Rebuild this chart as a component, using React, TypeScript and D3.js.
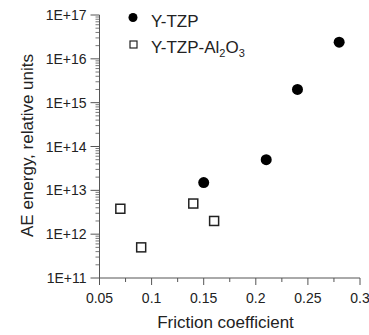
import React from "react";
import * as d3 from "d3";

const xTicks = [0.05, 0.1, 0.15, 0.2, 0.25, 0.3];
const xTickLabels = ["0.05", "0.1", "0.15", "0.2", "0.25", "0.3"];
const yTicks = [1e11, 1e12, 1e13, 1e14, 1e15, 1e16, 1e17];
const yTickLabels = ["1E+11", "1E+12", "1E+13", "1E+14", "1E+15", "1E+16", "1E+17"];

const tzpX = [0.15, 0.21, 0.24, 0.28];
const tzpY = [1.5e13, 5e13, 2e15, 2.4e16];
const alX = [0.07, 0.09, 0.14, 0.16];
const alY = [3.8e12, 5e11, 5e12, 2e12];

const W = 369, H = 335;
const FONT = "'Liberation Sans', Arial, sans-serif";

export default function App() {
  const x = d3.scaleLinear().domain([0.05, 0.3]).range([99.5, 360]);
  const y = d3.scaleLog().domain([1e11, 1e17]).range([278, 15]);
  const axisColor = "#555";
  const textColor = "#222";

  const minorY: number[] = [];
  for (let e = 11; e < 17; e++) {
    for (let m = 2; m <= 9; m++) minorY.push(m * Math.pow(10, e));
  }
  const minorX = d3.range(0.075, 0.3, 0.05);

  return (
    <svg width={W} height={H} style={{ position: "absolute", left: 0, top: 0, background: "#fff" }}>
      <rect width={W} height={H} fill="#fff" />
      {/* axes */}
      <line x1={x(0.05)} x2={x(0.3)} y1={y(1e11)} y2={y(1e11)} stroke={axisColor} strokeWidth={1} />
      <line x1={x(0.05)} x2={x(0.05)} y1={y(1e11)} y2={y(1e17)} stroke={axisColor} strokeWidth={1} />
      {xTicks.map((t, i) => (
        <g key={"xt" + i}>
          <line x1={x(t)} x2={x(t)} y1={y(1e11)} y2={y(1e11) + 7} stroke={axisColor} />
          <text x={x(t)} y={303} fontSize={14} fontFamily={FONT} fill={textColor} textAnchor="middle">
            {xTickLabels[i]}
          </text>
        </g>
      ))}
      {minorX.map((t, i) => (
        <line key={"xm" + i} x1={x(t)} x2={x(t)} y1={y(1e11)} y2={y(1e11) + 4} stroke={axisColor} />
      ))}
      {yTicks.map((t, i) => (
        <g key={"yt" + i}>
          <line x1={x(0.05) - 9} x2={x(0.05)} y1={y(t)} y2={y(t)} stroke={axisColor} />
          <text x={x(0.05) - 13} y={y(t) + 5} fontSize={14} fontFamily={FONT} fill={textColor} textAnchor="end">
            {yTickLabels[i]}
          </text>
        </g>
      ))}
      {minorY.map((t, i) => (
        <line key={"ym" + i} x1={x(0.05) - 4} x2={x(0.05)} y1={y(t)} y2={y(t)} stroke={axisColor} strokeWidth={0.8} />
      ))}
      {/* titles */}
      <text x={225.5} y={328} fontSize={17} fontFamily={FONT} fill={textColor} textAnchor="middle">
        Friction coefficient
      </text>
      <text
        transform={`translate(33, 145.5) rotate(-90)`}
        fontSize={17}
        fontFamily={FONT}
        fill={textColor}
        textAnchor="middle"
      >
        AE energy, relative units
      </text>
      {/* data */}
      {tzpX.map((v, i) => (
        <circle key={"c" + i} cx={x(v)} cy={y(tzpY[i])} r={5.5} fill="#000" />
      ))}
      {alX.map((v, i) => (
        <rect key={"s" + i} x={x(v) - 4.5} y={y(alY[i]) - 4.5} width={9} height={9} fill="#fff" stroke="#222" strokeWidth={1.5} />
      ))}
      {/* legend */}
      <circle cx={133} cy={17.5} r={4.5} fill="#000" />
      <text x={151} y={26.5} fontSize={17} fontFamily={FONT} fill={textColor}>Y-TZP</text>
      <rect x={130} y={41} width={7} height={7} fill="#fff" stroke="#222" strokeWidth={1.2} />
      <text x={151} y={53} fontSize={17} fontFamily={FONT} fill={textColor}>
        Y-TZP-Al
        <tspan fontSize={11} dy={4}>2</tspan>
        <tspan dy={-4}>O</tspan>
        <tspan fontSize={11} dy={4}>3</tspan>
      </text>
    </svg>
  );
}
